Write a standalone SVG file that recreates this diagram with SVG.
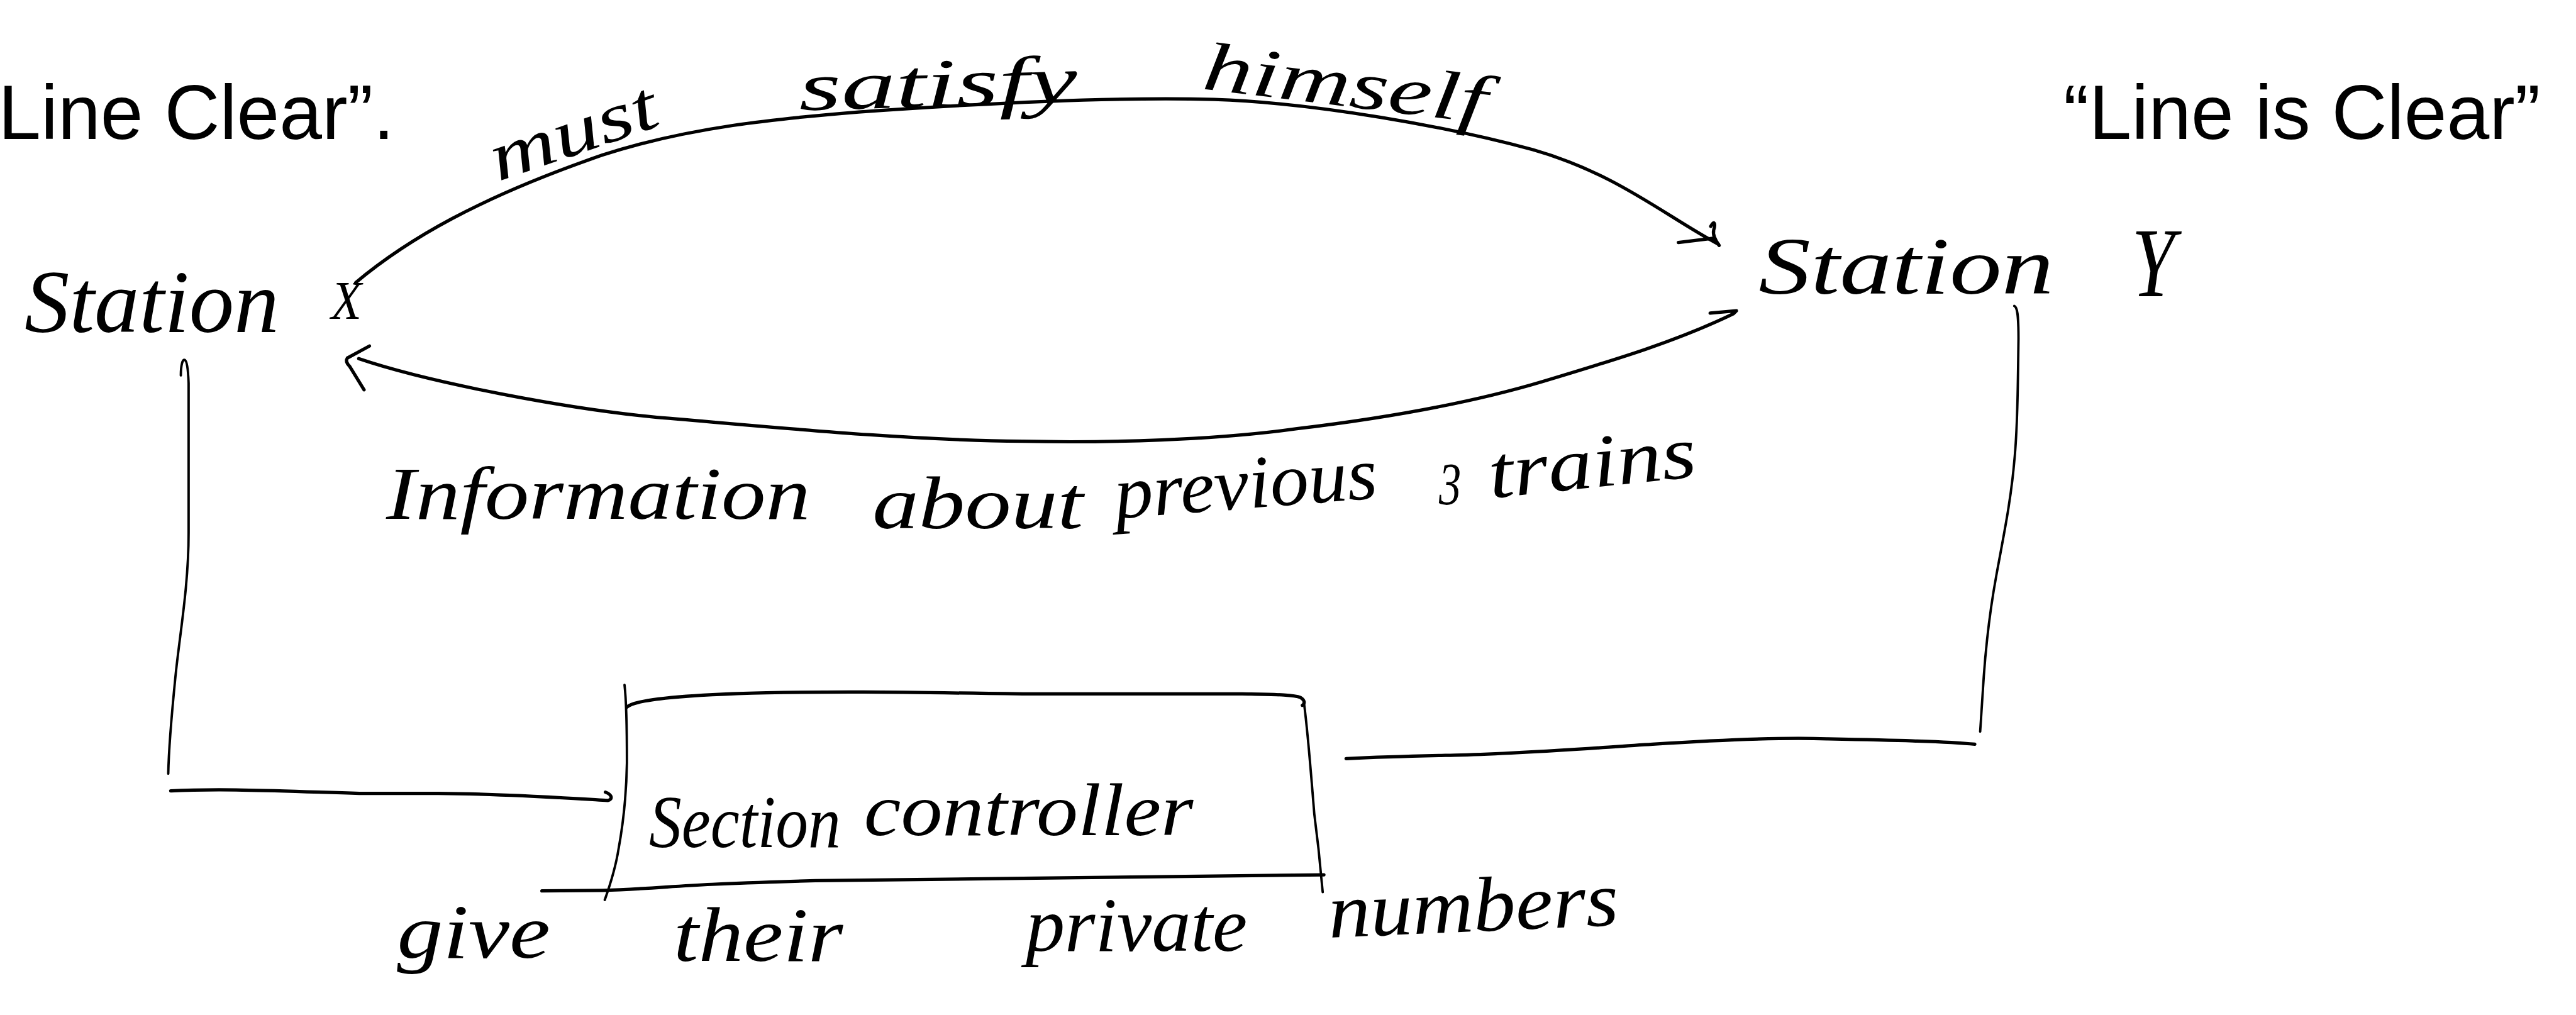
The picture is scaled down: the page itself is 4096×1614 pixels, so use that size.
<svg xmlns="http://www.w3.org/2000/svg" width="4096" height="1614" viewBox="0 0 4096 1614">
<style>
.hd{font-family:"Liberation Sans",Arial,sans-serif;font-size:128px;fill:#000}
.hw{font-family:"Liberation Serif","Times New Roman",serif;font-style:italic;fill:#000}
.ink{fill:none;stroke:#000;stroke-linecap:round;stroke-linejoin:round}
.thick{stroke-width:5.5}
.thin{stroke-width:4}
</style>
<rect width="4096" height="1614" fill="#fff"/>
<g transform="scale(0.9521)">
  <g id="header">
    <text class="hd" x="-3" y="232">Line Clear”.</text>
    <text class="hd" x="3446" y="232">“Line is Clear”</text>
  </g>

  <g id="node-station-x">
    <text class="hw" font-size="150"><tspan x="41" y="555" textLength="425" lengthAdjust="spacingAndGlyphs">Station</tspan> <tspan x="553" y="533" font-size="90" textLength="51" lengthAdjust="spacingAndGlyphs">X</tspan></text>
  </g>

  <g id="node-station-y">
    <text class="hw" font-size="135"><tspan x="2937" y="490" textLength="493" lengthAdjust="spacingAndGlyphs">Station</tspan> <tspan x="3560" y="495" font-size="165" textLength="72" lengthAdjust="spacingAndGlyphs">Y</tspan></text>
  </g>

  <g id="node-section-controller">
    <path class="ink thin" d="M1043,1144 C1046,1170 1047,1200 1047,1274 C1046,1330 1040,1380 1033,1418 C1028,1450 1020,1475 1010,1503"/>
    <path class="ink thick" d="M1047,1181 C1060,1168 1150,1160 1280,1157 C1400,1155 1450,1155 1708,1159 L2074,1159 C2130,1160 2160,1160 2172,1165 C2180,1170 2179,1175 2175,1178"/>
    <path class="ink thin" d="M2178,1176 C2185,1230 2190,1300 2195,1360 L2202,1418 L2209,1490"/>
    <path class="ink thick" d="M905,1488 L1006,1487 C1080,1485 1120,1480 1189,1477 C1300,1472 1360,1470 1434,1470 L1708,1467 L2211,1461"/>
    <text class="hw" font-size="125"><tspan x="1084" y="1415" textLength="320" lengthAdjust="spacingAndGlyphs">Section</tspan> <tspan x="1443" y="1395" textLength="550" lengthAdjust="spacingAndGlyphs">controller</tspan></text>
  </g>

  <g id="connectors">
    <!-- Station X to Station Y (top arc) -->
    <path class="ink thick" d="M594,472 C680,400 800,330 1006,259 C1150,212 1300,198 1434,187 C1650,172 1850,162 2028,166 C2200,172 2420,212 2560,250 C2700,290 2780,360 2870,408"/>
    <path class="ink thick" d="M2803,405 L2861,398"/>
    <path class="ink thick" d="M2857,378 C2862,368 2866,372 2862,384 C2860,392 2864,400 2871,410"/>
    <!-- Station Y to Station X (lower arc) -->
    <path class="ink thick" d="M2856,523 L2900,519 L2895,524 C2800,570 2700,600 2577,637 C2450,675 2300,700 2166,716 C2030,735 1850,740 1708,737 C1500,735 1280,712 1097,697 C950,683 720,640 599,599"/>
    <path class="ink thick" d="M617,578 L580,598 Q576,604 584,612 L608,651"/>
    <!-- Station X down to Section controller -->
    <path class="ink thin" d="M302,627 C302,610 305,600 308,601 C312,602 314,615 315,640 L315,890 C315,980 300,1060 293,1130 C288,1180 282,1240 281,1292"/>
    <path class="ink thick" d="M285,1321 C380,1316 480,1322 600,1325 L732,1325 C850,1326 950,1333 1015,1337 C1024,1335 1022,1327 1011,1323"/>
    <!-- Section controller to Station Y -->
    <path class="ink thick" d="M2248,1267 C2330,1263 2400,1262 2440,1261 C2550,1258 2650,1250 2760,1243 C2900,1234 3000,1232 3051,1234 C3150,1236 3250,1238 3298,1243"/>
    <path class="ink thin" d="M3364,511 C3369,513 3371,525 3371,565 C3370,650 3369,720 3364,770 C3358,840 3345,900 3334,961 C3325,1010 3318,1060 3313,1130 L3307,1222"/>
  </g>

  <g id="label-must-satisfy-himself">
    <text class="hw" font-size="115" x="832" y="303" textLength="290" lengthAdjust="spacingAndGlyphs" transform="rotate(-19 832 303)">must</text>
    <text class="hw" font-size="115" x="1335" y="184" textLength="465" lengthAdjust="spacingAndGlyphs" transform="rotate(-1.5 1335 184)">satisfy</text>
    <text class="hw" font-size="115" x="2006" y="148" textLength="476" lengthAdjust="spacingAndGlyphs" transform="rotate(7 2006 148)">himself</text>
  </g>

  <g id="label-information">
    <text class="hw" font-size="125" x="645" y="866" textLength="708" lengthAdjust="spacingAndGlyphs">Information</text>
    <text class="hw" font-size="125" x="1457" y="882" textLength="352" lengthAdjust="spacingAndGlyphs">about</text>
    <text class="hw" font-size="125" x="1864" y="866" textLength="440" lengthAdjust="spacingAndGlyphs" transform="rotate(-4.5 1864 866)">previous</text>
    <text class="hw" font-size="100" x="2403" y="842" textLength="37" lengthAdjust="spacingAndGlyphs">3</text>
    <text class="hw" font-size="125" x="2490" y="832" textLength="348" lengthAdjust="spacingAndGlyphs" transform="rotate(-6 2490 832)">trains</text>
  </g>

  <g id="label-give-numbers">
    <text class="hw" font-size="130" x="663" y="1600" textLength="256" lengthAdjust="spacingAndGlyphs">give</text>
    <text class="hw" font-size="130" x="1125" y="1605" textLength="283" lengthAdjust="spacingAndGlyphs">their</text>
    <text class="hw" font-size="130" x="1713" y="1588" textLength="370" lengthAdjust="spacingAndGlyphs">private</text>
    <text class="hw" font-size="130" x="2220" y="1566" textLength="485" lengthAdjust="spacingAndGlyphs" transform="rotate(-2.5 2220 1566)">numbers</text>
  </g>
</g>
</svg>
